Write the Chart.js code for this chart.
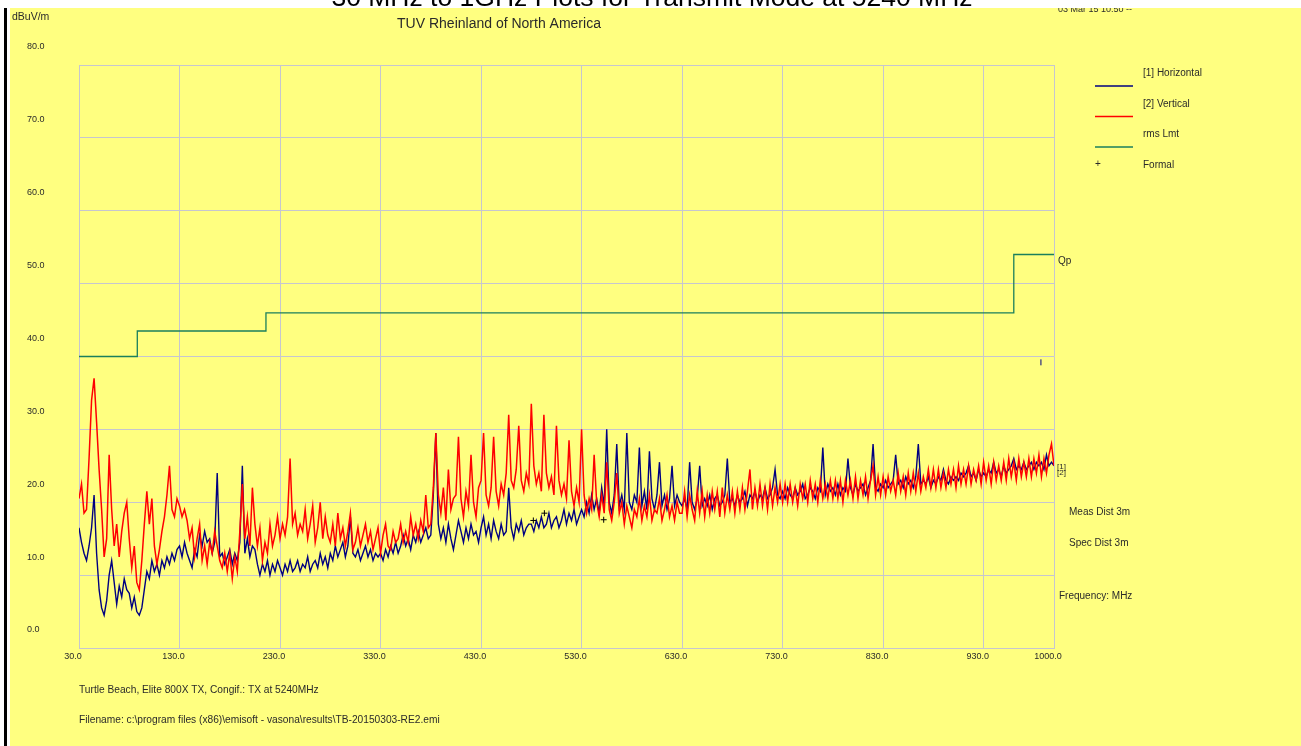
<!DOCTYPE html>
<html>
<head>
<meta charset="utf-8">
<script src="https://cdn.jsdelivr.net/npm/chart.js@4.4.1/dist/chart.umd.min.js"></script>
<style>
  html, body { margin: 0; background: #ffff80; overflow: hidden; }
  canvas { display: block; }
</style>
</head>
<body>
<canvas id="emiChart" width="1301" height="746"></canvas>
<script>
// sweep grid: one reading every 2.5 MHz from 30 to 1000 MHz
const freqStartMHz = 30;
const freqStepMHz = 2.5;

// [1] Horizontal, dBuV/m
const horizontal = [
  16.5, 14.5, 13, 12, 14, 16.5, 21, 13, 8, 5.5,
  4.5, 6.5, 10, 12, 9, 6, 8.5, 7, 9.5, 8,
  7.5, 5.5, 7, 5, 4.5, 5.5, 8, 10.5, 9.5, 12,
  10.5, 11.5, 10, 12, 11, 12.5, 11.5, 13, 12, 13.5,
  14, 12.5, 14.5, 13, 12, 11, 13.5, 12.5, 15.5, 14,
  16, 14.5, 15, 13, 14.5, 24, 12.5, 13, 11.5, 12.5,
  13.5, 11.5, 13, 12, 14.5, 25, 13, 15, 12.5, 14,
  13.5, 11.5, 10, 11.5, 10.5, 12, 10, 11.5, 10.5, 12,
  11, 10, 11.5, 10.5, 12, 10.5, 11, 12, 10.5, 11.5,
  11, 12.5, 10.5, 11.5, 12, 11, 13, 11.5, 12.5, 11,
  13, 12, 14, 12.5, 13.5, 14.5, 12.5, 14, 18, 13,
  12.5, 13.5, 12, 13, 14, 12.5, 13.5, 12, 13, 12.5,
  13, 12, 13.5, 12.5, 14, 13, 14.5, 13, 14, 15.5,
  14, 15, 13.5, 15.5, 14.5, 16, 14.5, 15.5, 16.5, 15,
  15.5, 21, 29.5, 17, 15, 16.5, 14.5, 17, 15, 13.5,
  15.5, 17.5, 16, 14.5, 16.5, 15, 17, 15.5, 16, 14.5,
  16.5, 18, 15.5, 17, 15, 17.5, 16, 15, 17, 15.5,
  16, 22, 16.5, 15, 17, 16, 17.5, 15.5, 16.5, 17,
  17, 16, 17.5, 16.5, 18, 16.5, 17, 18.5, 16.5, 17.5,
  18, 16.5, 17.5, 19, 17, 18.5, 17.5, 19, 17, 18,
  19, 18, 20, 18.5, 21, 19, 20.5, 18.5, 22, 19.5,
  30, 20, 18.5, 21, 28, 19.5, 21, 19, 29.5, 20,
  19, 21, 20, 27.5, 19.5, 21.5, 19, 27, 20.5, 19,
  21, 25.5, 19.5, 21, 19, 20.5, 25, 19.5, 21, 20,
  19.5, 20.5, 19, 25.5, 20, 19, 20.5, 25, 19.5, 20.5,
  19.5, 21, 19, 20.5, 21, 19.5, 20, 21, 26, 20,
  20.5, 19.5, 21, 20, 20.5, 21.5, 19.5, 21, 20.5, 21.5,
  20, 21, 20.5, 22, 20.5, 21, 22, 24.5, 21, 20.5,
  21.5, 20.5, 22, 21, 20.5, 22, 21, 21.5, 22.5, 20.5,
  21, 22, 21.5, 20.5, 22, 21.5, 27.5, 21, 22.5, 21.5,
  22, 21, 22.5, 21, 22, 21.5, 26, 22, 21, 22.5,
  21.5, 22, 22.5, 21, 22, 23, 28, 22, 21.5, 22.5,
  22, 23, 22, 22.5, 23, 26.5, 22.5, 23, 22, 23.5,
  22.5, 23, 22, 23.5, 28, 22.5, 23, 22.5, 23.5, 22,
  23, 22.5, 23.5, 23, 24.5, 23, 22.5, 23.5, 23, 23.5,
  23, 24, 23.5, 24, 25, 23.5, 24, 23, 24.5, 23.5,
  24, 23.5, 24.5, 24, 25.5, 24, 24.5, 23.5, 25, 24,
  24.5, 25, 26, 24.5, 25, 24.5, 25.5, 24.5, 25, 25.5,
  24.5, 25.5, 25, 25.5, 24.5, 26.5, 25, 25.5, 25
];

// [2] Vertical, dBuV/m
const vertical = [
  20.5, 22.5, 18.5, 19, 26, 34, 37, 31, 24.5, 19,
  12.5, 15, 26.5, 19, 14, 17, 12.5, 16, 18.5, 20,
  15, 11, 14, 9, 8, 12, 17, 21.5, 17, 20.5,
  14, 11.5, 13.5, 16, 18, 21, 25, 19, 18, 20.5,
  19.5, 18, 19, 17.5, 15, 16.5, 12.5, 15, 17, 12,
  14, 11.5, 14.5, 13, 16, 14, 12, 11, 13, 10.5,
  13, 9.5, 12.5, 10.5, 16, 22.5, 15, 18, 14, 22,
  17, 14, 16.5, 12, 14.5, 13, 17, 14, 15.5, 18,
  15, 17, 15.5, 18, 26, 17, 18.5, 15.5, 17, 16,
  19, 15, 17, 19.5, 14.5, 16.5, 20, 15, 18, 15.5,
  14.5, 17, 14, 18.5, 15, 16.5, 14, 16, 18.5, 13.5,
  14.5, 16.5, 14, 15.5, 17, 14.5, 16, 13.5, 15, 16.5,
  13, 15.5, 17, 14, 13.5, 16, 14.5, 15, 17, 14.5,
  16, 14.5, 18, 15.5, 17, 15, 17.5, 16, 21, 16.5,
  17, 22, 29.5, 21, 18.5, 22, 17.5, 24.5, 19, 20.5,
  21, 29, 20.5, 18, 21.5, 19.5, 26.5, 20, 18, 22,
  23, 29.5, 21, 19.5, 22, 29, 21.5, 19.5, 22.5, 21,
  24, 32, 23, 22, 24.5, 30.5, 23, 21.5, 24, 22.5,
  33.5, 25, 22.5, 24, 21.5, 32, 24, 22, 23.5, 21,
  30.5, 23, 21, 22.5, 20.5, 28.5, 21.5, 19.5, 22, 20,
  30, 21, 18.5, 20.5, 19, 26.5, 20, 18, 21, 18.5,
  25.5, 19, 17.5, 20, 24, 18.5, 20, 17, 19.5, 18,
  16.5, 19, 18, 20.5, 17.5, 19.5, 18, 21, 17.5, 19,
  18.5, 20.5, 17.5, 19, 21, 18, 19.5, 17.5, 20, 18.5,
  18.5, 21.5, 18, 21, 19, 17.5, 21.5, 18.5, 21.5, 18,
  21, 18.5, 21.5, 19, 21.5, 18, 22, 18.5, 21, 19,
  21.5, 18.5, 21.5, 19, 22, 19, 21.5, 24.5, 19, 22,
  19.5, 22.5, 19.5, 22, 19, 22.5, 19.5, 22, 20, 22.5,
  20, 22.5, 20, 22.5, 20, 22, 19.5, 22.5, 20.5, 22.5,
  20, 23, 20.5, 22.5, 20, 23, 20.5, 22.5, 20.5, 23,
  20.5, 23, 20.5, 23, 20, 23, 21, 23, 20.5, 23.5,
  20.5, 23, 21, 23.5, 20.5, 23, 25, 21, 23.5, 21,
  23.5, 21, 23.5, 21.5, 23, 21, 24, 21.5, 23.5, 21,
  24, 21.5, 24, 21.5, 24, 21.5, 23.5, 22, 24.5, 22,
  24.5, 22, 24.5, 22, 24, 22, 24.5, 22.5, 24.5, 22,
  25, 22.5, 24.5, 22.5, 25, 22.5, 24.5, 23, 25, 22.5,
  25.5, 23, 25, 22.5, 25.5, 23, 25, 23, 25.5, 23,
  26, 23.5, 25.5, 23, 26, 23.5, 25.5, 23.5, 26, 23.5,
  26, 24, 26.5, 23.5, 26, 24, 26.5, 28, 25
];

// rms limit (steps)
const limitFreq = [30, 88, 216, 960, 1000];
const limitLevel = [40, 43.5, 46, 54, 54];

// formal readings
const formalFreq = [482, 493, 552, 987];
const formalLevel = [17.5, 18.5, 17.6, 39.2];

const xTickValues = [30, 130, 230, 330, 430, 530, 630, 730, 830, 930, 1000];
const yMin = 0, yMax = 80, yStep = 10;

const mainTitle = "30 MHz to 1GHz Plots for Transmit Mode at 5240 MHz";
const labName = "TUV Rheinland of North America";
const stamp = "03 Mar 15 10:50 --";
const unitLabel = "dBuV/m";
const footNotes = [
  "Turtle Beach, Elite 800X TX, Congif.: TX at 5240MHz",
  "Filename: c:\\program files (x86)\\emisoft - vasona\\results\\TB-20150303-RE2.emi"
];
const sideNotes = ["Meas Dist 3m", "Spec Dist 3m"];

const FONT = "'Liberation Sans', Arial, sans-serif";
const gridColor = "#c6c6cf";
const textColor = "#2a2a2a";

const toPoints = (vals) => vals.map((v, i) => ({ x: freqStartMHz + i * freqStepMHz, y: v }));
const pairs = (xs, ys) => xs.map((x, i) => ({ x: x, y: ys[i] }));

const pagePlugin = {
  id: "page",
  beforeDraw(chart) {
    const c = chart.ctx;
    c.save();
    c.fillStyle = "#fff";
    c.fillRect(0, 0, chart.width, chart.height);
    c.fillStyle = "#ffff80";
    c.fillRect(10, 8, chart.width - 10, chart.height - 8);
    c.fillStyle = "#000";
    c.fillRect(4, 8, 3, chart.height - 8);
    c.restore();
  },
  afterDraw(chart) {
    const c = chart.ctx;
    const area = chart.chartArea;
    const y = chart.scales.y;
    const ds = chart.data.datasets;
    c.save();
    c.fillStyle = textColor;
    c.textBaseline = "middle";
    c.textAlign = "left";

    c.font = "10.5px " + FONT;
    c.fillText(unitLabel, 12, 17);
    c.font = "9px " + FONT;
    c.fillText(stamp, 1058, 10);

    c.font = "14px " + FONT;
    c.textAlign = "center";
    c.fillText(labName, 499, 24);
    c.textAlign = "left";

    // legend
    c.font = "10px " + FONT;
    for (let i = 0; i < 3; i++) {
      const ly = 86 + i * 30.5;
      c.strokeStyle = ds[i].borderColor;
      c.lineWidth = 1.5;
      c.beginPath();
      c.moveTo(1095, ly);
      c.lineTo(1133, ly);
      c.stroke();
      c.fillStyle = textColor;
      c.fillText(ds[i].label, 1143, ly - 12.5);
    }
    c.fillText("+", 1095, 164);
    c.fillText(ds[3].label, 1143, 165);

    // right side notes
    c.fillText("Qp", area.right + 4, y.getPixelForValue(limitLevel[limitLevel.length - 1]) + 7);
    c.font = "8px " + FONT;
    c.fillText("[1]", area.right + 3, y.getPixelForValue(horizontal[horizontal.length - 1]) + 1);
    c.fillText("[2]", area.right + 3, y.getPixelForValue(vertical[vertical.length - 1]) + 7);
    c.font = "10px " + FONT;
    c.fillText(sideNotes[0], area.right + 15, 512);
    c.fillText(sideNotes[1], area.right + 15, 543);
    c.fillText("Frequency: MHz", area.right + 5, 596);

    c.font = "10.2px " + FONT;
    c.fillText(footNotes[0], area.left, 690);
    c.fillText(footNotes[1], area.left, 720);

    // white band with the cut-off page title
    c.fillStyle = "#fff";
    c.fillRect(0, 0, chart.width, 8);
    c.fillStyle = "#000";
    c.font = "26.5px " + FONT;
    c.textAlign = "center";
    c.textBaseline = "alphabetic";
    c.fillText(mainTitle, 652, 6);
    c.restore();
  }
};

new Chart(document.getElementById("emiChart"), {
  type: "line",
  data: {
    datasets: [
      {
        label: "[1] Horizontal",
        data: toPoints(horizontal),
        borderColor: "#000080",
        borderWidth: 1.4,
        pointRadius: 0,
        order: 3
      },
      {
        label: "[2] Vertical",
        data: toPoints(vertical),
        borderColor: "#ff0000",
        borderWidth: 1.5,
        pointRadius: 0,
        order: 2
      },
      {
        label: "rms Lmt",
        data: pairs(limitFreq, limitLevel),
        borderColor: "#1b7f5c",
        borderWidth: 1.3,
        stepped: true,
        pointRadius: 0,
        order: 1
      },
      {
        label: "Formal",
        data: pairs(formalFreq, formalLevel),
        showLine: false,
        borderColor: ["#000", "#000", "#000", "#000080"],
        pointStyle: ["cross", "cross", "cross", "line"],
        rotation: [0, 0, 0, 90],
        pointRadius: 3,
        borderWidth: 1,
        order: 0
      }
    ]
  },
  options: {
    responsive: false,
    animation: false,
    events: [],
    layout: { padding: { left: 27, top: 65, right: 247, bottom: 78 } },
    scales: {
      x: {
        type: "linear",
        min: 30,
        max: 1000,
        afterBuildTicks: (axis) => { axis.ticks = xTickValues.map((v) => ({ value: v })); },
        afterFit: (axis) => { axis.height = 20; },
        ticks: {
          autoSkip: false,
          maxRotation: 0,
          padding: 3,
          labelOffset: -6,
          color: textColor,
          font: { family: FONT, size: 9 },
          callback: (v) => Number(v).toFixed(1)
        },
        grid: { color: gridColor, drawTicks: false },
        border: { color: gridColor }
      },
      y: {
        min: yMin,
        max: yMax,
        afterFit: (axis) => { axis.width = 52; },
        ticks: {
          stepSize: yStep,
          autoSkip: false,
          crossAlign: "far",
          padding: 0,
          labelOffset: -18,
          color: textColor,
          font: { family: FONT, size: 9 },
          callback: (v) => Number(v).toFixed(1)
        },
        grid: { color: gridColor, drawTicks: false },
        border: { color: gridColor }
      }
    },
    plugins: {
      legend: { display: false },
      tooltip: { enabled: false }
    }
  },
  plugins: [pagePlugin]
});
</script>
</body>
</html>
